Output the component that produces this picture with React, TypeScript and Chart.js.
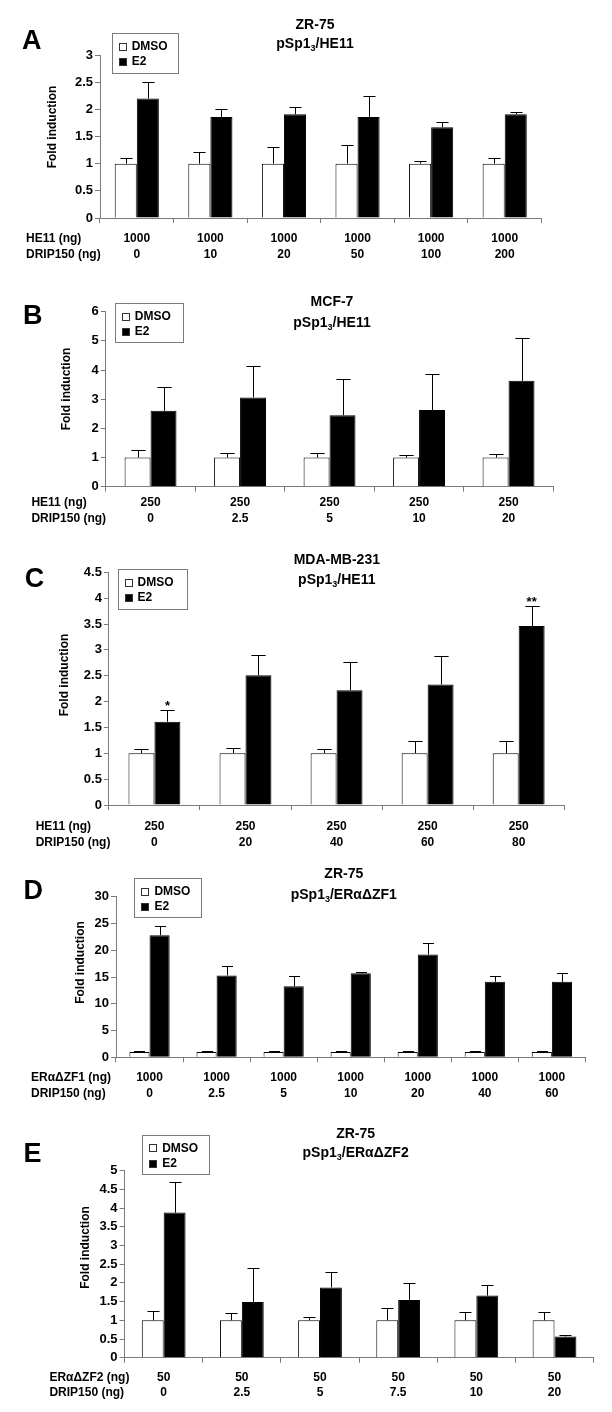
import React, { useEffect, useRef } from "react";
import { Chart, registerables } from "chart.js";

Chart.register(...registerables);

const FONT = "'Liberation Sans', Arial, Helvetica, sans-serif";

// ---------- Panel A : ZR-75 pSp1(3)/HE11 ----------
const rowA1 = ["1000", "1000", "1000", "1000", "1000", "1000"];
const rowA2 = ["0", "10", "20", "50", "100", "200"];
const dmsoA = [1, 1, 1, 1, 1, 1];
const dmsoErrA = [0.1, 0.21, 0.3, 0.35, 0.05, 0.1];
const e2A = [2.2, 1.86, 1.91, 1.86, 1.67, 1.91];
const e2ErrA = [0.3, 0.14, 0.14, 0.39, 0.09, 0.04];
const yTicksA = [0, 0.5, 1, 1.5, 2, 2.5, 3];

// ---------- Panel B : MCF-7 pSp1(3)/HE11 ----------
const rowB1 = ["250", "250", "250", "250", "250"];
const rowB2 = ["0", "2.5", "5", "10", "20"];
const dmsoB = [1, 1, 1, 1, 1];
const dmsoErrB = [0.25, 0.15, 0.15, 0.1, 0.13];
const e2B = [2.6, 3.06, 2.45, 2.63, 3.63];
const e2ErrB = [0.83, 1.09, 1.25, 1.22, 1.46];
const yTicksB = [0, 1, 2, 3, 4, 5, 6];

// ---------- Panel C : MDA-MB-231 pSp1(3)/HE11 ----------
const rowC1 = ["250", "250", "250", "250", "250"];
const rowC2 = ["0", "20", "40", "60", "80"];
const dmsoC = [1, 1, 1, 1, 1];
const dmsoErrC = [0.08, 0.1, 0.08, 0.24, 0.24];
const e2C = [1.61, 2.51, 2.22, 2.33, 3.46];
const e2ErrC = [0.23, 0.39, 0.55, 0.56, 0.38];
const starsC = ["*", "", "", "", "**"];
const yTicksC = [0, 0.5, 1, 1.5, 2, 2.5, 3, 3.5, 4, 4.5];

// ---------- Panel D : ZR-75 pSp1(3)/ERαΔZF1 ----------
const rowD1 = ["1000", "1000", "1000", "1000", "1000", "1000", "1000"];
const rowD2 = ["0", "2.5", "5", "10", "20", "40", "60"];
const dmsoD = [1, 1, 1, 1, 1, 1, 1];
const dmsoErrD = [0.2, 0.1, 0.2, 0.1, 0.1, 0.1, 0.1];
const e2D = [22.8, 15.3, 13.25, 15.7, 19.2, 14.1, 14.1];
const e2ErrD = [1.8, 1.7, 2.0, 0.2, 2.1, 1.0, 1.6];
const yTicksD = [0, 5, 10, 15, 20, 25, 30];

// ---------- Panel E : ZR-75 pSp1(3)/ERαΔZF2 ----------
const rowE1 = ["50", "50", "50", "50", "50", "50"];
const rowE2 = ["0", "2.5", "5", "7.5", "10", "20"];
const dmsoE = [1, 1, 1, 1, 1, 1];
const dmsoErrE = [0.26, 0.19, 0.08, 0.33, 0.23, 0.23];
const e2E = [3.88, 1.49, 1.88, 1.54, 1.66, 0.57];
const e2ErrE = [0.83, 0.92, 0.42, 0.46, 0.29, 0.04];
const yTicksE = [0, 0.5, 1, 1.5, 2, 2.5, 3, 3.5, 4, 4.5, 5];

const seriesNames = ["DMSO", "E2"];

type Layout = {
  top: number;
  height: number;
  plotLeft: number;
  plotRight: number;
  plotTop: number;
  plotBottom: number;
  catPct: number;
  labelPad: number;
  letterX: number;
  letterY: number;
  titleX: number;
  title1Y: number;
  title2Y: number;
  legX: number;
  legY: number;
  legW: number;
  legH: number;
  yLabelX: number;
  yLabelY: number;
  rowLabelX: number;
};

type PanelCfg = {
  letter: string;
  title1: string;
  title2: [string, string, string];
  rowNames: [string, string];
  row1: string[];
  row2: string[];
  dmso: number[];
  dmsoErr: number[];
  e2: number[];
  e2Err: number[];
  yTicks: number[];
  stars?: string[];
  L: Layout;
};

const panels: PanelCfg[] = [
  {
    letter: "A",
    title1: "ZR-75",
    title2: ["pSp1", "3", "/HE11"],
    rowNames: ["HE11 (ng)", "DRIP150 (ng)"],
    row1: rowA1, row2: rowA2, dmso: dmsoA, dmsoErr: dmsoErrA, e2: e2A, e2Err: e2ErrA, yTicks: yTicksA,
    L: { top: 0, height: 290, plotLeft: 100, plotRight: 541.5, plotTop: 55, plotBottom: 218, catPct: 0.6, labelPad: 8.2,
      letterX: 22, letterY: 41.7, titleX: 315, title1Y: 25, title2Y: 44, legX: 111.7, legY: 33.3, legW: 65.6, legH: 40, yLabelX: 53, yLabelY: 127, rowLabelX: 26 },
  },
  {
    letter: "B",
    title1: "MCF-7",
    title2: ["pSp1", "3", "/HE11"],
    rowNames: ["HE11 (ng)", "DRIP150 (ng)"],
    row1: rowB1, row2: rowB2, dmso: dmsoB, dmsoErr: dmsoErrB, e2: e2B, e2Err: e2ErrB, yTicks: yTicksB,
    L: { top: 265, height: 295, plotLeft: 105.8, plotRight: 553.3, plotTop: 311.7, plotBottom: 486.7, catPct: 0.58, labelPad: 3.3,
      letterX: 23, letterY: 317, titleX: 332, title1Y: 301.7, title2Y: 323, legX: 114.8, legY: 303.3, legW: 67.7, legH: 39.4, yLabelX: 67, yLabelY: 389, rowLabelX: 31.4 },
  },
  {
    letter: "C",
    title1: "MDA-MB-231",
    title2: ["pSp1", "3", "/HE11"],
    rowNames: ["HE11 (ng)", "DRIP150 (ng)"],
    row1: rowC1, row2: rowC2, dmso: dmsoC, dmsoErr: dmsoErrC, e2: e2C, e2Err: e2ErrC, yTicks: yTicksC, stars: starsC,
    L: { top: 535, height: 345, plotLeft: 108.9, plotRight: 564.2, plotTop: 572.3, plotBottom: 805, catPct: 0.57, labelPad: 9,
      letterX: 24.7, letterY: 580, titleX: 336.8, title1Y: 560.5, title2Y: 580, legX: 117.5, legY: 569.3, legW: 68.5, legH: 39.7, yLabelX: 64.5, yLabelY: 675, rowLabelX: 35.7 },
  },
  {
    letter: "D",
    title1: "ZR-75",
    title2: ["pSp1", "3", "/ERαΔZF1"],
    rowNames: ["ERαΔZF1 (ng)", "DRIP150 (ng)"],
    row1: rowD1, row2: rowD2, dmso: dmsoD, dmsoErr: dmsoErrD, e2: e2D, e2Err: e2ErrD, yTicks: yTicksD,
    L: { top: 860, height: 270, plotLeft: 116, plotRight: 585.4, plotTop: 896.7, plotBottom: 1057.3, catPct: 0.6, labelPad: 7.6,
      letterX: 23.6, letterY: 892, titleX: 343.8, title1Y: 874, title2Y: 895, legX: 134.4, legY: 878.3, legW: 66.5, legH: 39.4, yLabelX: 81, yLabelY: 962.5, rowLabelX: 31 },
  },
  {
    letter: "E",
    title1: "ZR-75",
    title2: ["pSp1", "3", "/ERαΔZF2"],
    rowNames: ["ERαΔZF2 (ng)", "DRIP150 (ng)"],
    row1: rowE1, row2: rowE2, dmso: dmsoE, dmsoErr: dmsoErrE, e2: e2E, e2Err: e2ErrE, yTicks: yTicksE,
    L: { top: 1110, height: 320, plotLeft: 124.6, plotRight: 593.6, plotTop: 1170.7, plotBottom: 1357.7, catPct: 0.56, labelPad: 6.8,
      letterX: 23.6, letterY: 1155, titleX: 355.6, title1Y: 1134, title2Y: 1153, legX: 142.2, legY: 1135, legW: 67.3, legH: 39.3, yLabelX: 86, yLabelY: 1247.5, rowLabelX: 49.4 },
  },
];

const YW = 50;
const XH = 60;
const TICK_LEN = 5;
const LINE_H = 15.6;
const AXIS_COLOR = "#7a7a7a";

function makeDeco(p: PanelCfg) {
  const L = p.L;
  const T = L.top;
  return {
    id: "deco" + p.letter,
    afterDatasetsDraw(chart: any) {
      const ctx = chart.ctx;
      const ys = chart.scales.y;
      const errs = [p.dmsoErr, p.e2Err];
      const vals = [p.dmso, p.e2];
      ctx.save();
      ctx.strokeStyle = "#000";
      ctx.lineWidth = 1;
      for (let d = 0; d < 2; d++) {
        const meta = chart.getDatasetMeta(d);
        meta.data.forEach((el: any, j: number) => {
          const x = Math.round(el.x) + 0.5;
          const yTop = Math.round(ys.getPixelForValue(vals[d][j] + errs[d][j])) + 0.5;
          const yBar = el.y;
          const cw = el.width * 0.55;
          ctx.beginPath();
          ctx.moveTo(x, yBar);
          ctx.lineTo(x, yTop);
          ctx.moveTo(x - cw / 2, yTop);
          ctx.lineTo(x + cw / 2, yTop);
          ctx.stroke();
          if (d === 1 && p.stars && p.stars[j]) {
            ctx.fillStyle = "#000";
            ctx.font = `bold 13px ${FONT}`;
            ctx.textAlign = "center";
            ctx.textBaseline = "alphabetic";
            ctx.fillText(p.stars[j], el.x, yTop - 1);
          }
        });
      }
      ctx.restore();
    },
    afterDraw(chart: any) {
      const ctx = chart.ctx;
      ctx.save();
      ctx.fillStyle = "#000";
      // panel letter
      ctx.font = `bold 27px ${FONT}`;
      ctx.textAlign = "left";
      ctx.textBaseline = "middle";
      ctx.fillText(p.letter, L.letterX, L.letterY - T);
      // title
      ctx.font = `bold 14px ${FONT}`;
      ctx.textAlign = "center";
      ctx.fillText(p.title1, L.titleX, L.title1Y - T);
      const [a, sub, b] = p.title2;
      ctx.font = `bold 14px ${FONT}`;
      const wa = ctx.measureText(a).width;
      const wb = ctx.measureText(b).width;
      ctx.font = `bold 9px ${FONT}`;
      const ws = ctx.measureText(sub).width;
      const total = wa + ws + wb;
      const x0 = L.titleX - total / 2;
      ctx.textAlign = "left";
      ctx.font = `bold 14px ${FONT}`;
      ctx.fillText(a, x0, L.title2Y - T);
      ctx.font = `bold 9px ${FONT}`;
      ctx.fillText(sub, x0 + wa, L.title2Y - T + 5);
      ctx.font = `bold 14px ${FONT}`;
      ctx.fillText(b, x0 + wa + ws, L.title2Y - T);
      // legend
      const lx = L.legX, ly = L.legY - T;
      ctx.strokeStyle = AXIS_COLOR;
      ctx.lineWidth = 1;
      ctx.strokeRect(Math.round(lx) + 0.5, Math.round(ly) + 0.5, Math.round(L.legW), Math.round(L.legH));
      const rowsY = [ly + 13.4, ly + 28.7];
      const fills = ["#fff", "#000"];
      for (let i = 0; i < 2; i++) {
        const my = Math.round(rowsY[i] - 4);
        ctx.fillStyle = fills[i];
        ctx.fillRect(Math.round(lx + 7), my, 8, 8);
        ctx.strokeStyle = "#333";
        ctx.strokeRect(Math.round(lx + 7) + 0.5, my + 0.5, 7, 7);
        ctx.fillStyle = "#000";
        ctx.font = `bold 12px ${FONT}`;
        ctx.textAlign = "left";
        ctx.textBaseline = "middle";
        ctx.fillText(seriesNames[i], lx + 20, rowsY[i]);
      }
      // y axis label
      ctx.save();
      ctx.translate(L.yLabelX, L.yLabelY - T);
      ctx.rotate(-Math.PI / 2);
      ctx.font = `bold 12px ${FONT}`;
      ctx.textAlign = "center";
      ctx.textBaseline = "middle";
      ctx.fillText("Fold induction", 0, 0);
      ctx.restore();
      // row labels
      const xs = chart.scales.x;
      const base = xs.top + TICK_LEN + L.labelPad;
      ctx.font = `bold 12px ${FONT}`;
      ctx.textAlign = "left";
      ctx.textBaseline = "middle";
      ctx.fillText(p.rowNames[0], L.rowLabelX, base + LINE_H * 0.5);
      ctx.fillText(p.rowNames[1], L.rowLabelX, base + LINE_H * 1.5);
      ctx.restore();
    },
  };
}

function Panel({ p }: { p: PanelCfg }) {
  const ref = useRef<HTMLCanvasElement | null>(null);
  useEffect(() => {
    const L = p.L;
    const canvas = ref.current!;
    const labels = p.row1.map((v, i) => [v, p.row2[i]]);
    const chart = new Chart(canvas, {
      type: "bar",
      data: {
        labels,
        datasets: [
          { label: seriesNames[0], data: p.dmso, backgroundColor: "#ffffff", borderColor: "#000000", borderWidth: 1, categoryPercentage: L.catPct, barPercentage: 1 },
          { label: seriesNames[1], data: p.e2, backgroundColor: "#000000", borderColor: "#000000", borderWidth: 1, categoryPercentage: L.catPct, barPercentage: 1 },
        ],
      },
      options: {
        responsive: false,
        maintainAspectRatio: false,
        animation: false,
        events: [],
        layout: {
          padding: {
            left: L.plotLeft - YW,
            right: 612 - L.plotRight,
            top: L.plotTop - L.top,
            bottom: L.top + L.height - L.plotBottom - XH,
          },
        },
        plugins: { legend: { display: false }, tooltip: { enabled: false }, title: { display: false } },
        scales: {
          x: {
            type: "category",
            offset: true,
            grid: { display: true, drawOnChartArea: false, drawTicks: true, tickLength: TICK_LEN, color: AXIS_COLOR, offset: true },
            border: { display: true, color: AXIS_COLOR, width: 1 },
            ticks: {
              color: "#000",
              font: { family: FONT, size: 12, weight: "bold", lineHeight: LINE_H / 12 },
              padding: L.labelPad,
              maxRotation: 0,
              minRotation: 0,
              autoSkip: false,
            },
            afterFit: (s: any) => { s.height = XH; },
          },
          y: {
            min: 0,
            max: p.yTicks[p.yTicks.length - 1],
            grid: { display: true, drawOnChartArea: false, drawTicks: true, tickLength: TICK_LEN, color: AXIS_COLOR },
            border: { display: true, color: AXIS_COLOR, width: 1 },
            ticks: {
              color: "#000",
              font: { family: FONT, size: 13, weight: "bold" },
              padding: 2,
              callback: (v: any) => String(v),
            },
            afterBuildTicks: (s: any) => { s.ticks = p.yTicks.map((v) => ({ value: v })); },
            afterFit: (s: any) => { s.width = YW; },
          },
        },
      },
      plugins: [makeDeco(p)],
    } as any);
    return () => chart.destroy();
  }, [p]);
  return (
    <canvas
      ref={ref}
      width={612}
      height={p.L.height}
      style={{ position: "absolute", left: 0, top: p.L.top, width: 612, height: p.L.height, display: "block" }}
    />
  );
}

export default function App() {
  return (
    <div style={{ position: "absolute", left: 0, top: 0, width: 612, height: 1412, background: "#fff", overflow: "hidden" }}>
      {panels.map((p) => (
        <Panel key={p.letter} p={p} />
      ))}
    </div>
  );
}
